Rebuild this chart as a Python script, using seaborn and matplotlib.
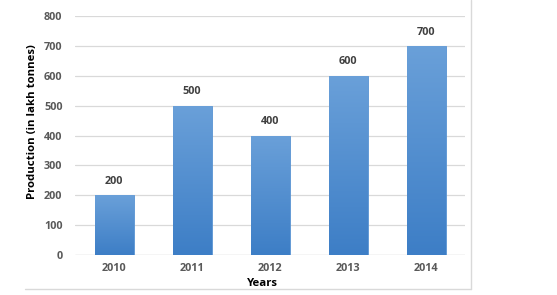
import numpy as np
import pandas as pd
import matplotlib
matplotlib.use("Agg")
import matplotlib.pyplot as plt
import seaborn as sns
from matplotlib.colors import LinearSegmentedColormap
from matplotlib.lines import Line2D

years = ["2010", "2011", "2012", "2013", "2014"]
production = [200, 500, 400, 600, 700]
yticks = [0, 100, 200, 300, 400, 500, 600, 700, 800]

df = pd.DataFrame({"Years": years, "Production": production})

sns.set_theme(style="white")
plt.rcParams['font.family'] = ['Open Sans', 'DejaVu Sans']

fig = plt.figure(figsize=(5.57, 2.95), dpi=100)
ax = fig.add_axes([75/557, 1-255/295, 390/557, (255-16)/295])

sns.barplot(data=df, x="Years", y="Production", color="#4a8ad0", width=0.5,
            ax=ax, saturation=1, zorder=3)

cmap = LinearSegmentedColormap.from_list("g", ["#3d7ec6", "#6aa0d9"])
grad = np.linspace(0, 1, 256).reshape(-1, 1)
for p in ax.patches:
    x0, y0 = p.get_x(), p.get_y()
    w, h = p.get_width(), p.get_height()
    im = ax.imshow(grad, extent=[x0, x0 + w, y0, y0 + h], origin="lower",
                   cmap=cmap, aspect="auto", zorder=4)
    im.set_clip_path(p)
    p.set_edgecolor("#5b95d3")
    p.set_linewidth(0.6)

ax.set_xlim(-0.5, 4.5)
ax.set_ylim(0, 800)
ax.set_yticks(yticks)
ax.yaxis.grid(True, color="#d9d9d9", linewidth=0.9, zorder=0)
ax.set_axisbelow(True)
for s in ax.spines.values():
    s.set_visible(False)
ax.axhline(0, color="#d9d9d9", linewidth=0.9, zorder=1)

ax.tick_params(axis="both", length=0, labelsize=7.8, labelcolor="#595959")
ax.tick_params(axis="y", pad=9)
ax.tick_params(axis="x", pad=6)
for lbl in ax.get_xticklabels() + ax.get_yticklabels():
    lbl.set_fontweight("bold")

for i, v in enumerate(production):
    ax.text(i, v + 28, str(v), ha="center", va="bottom", fontsize=7.8,
            fontweight="bold", color="#404040")

ax.set_xlabel("")
ax.set_ylabel("")
fig.text(262/557, 1-283/295, "Years", ha="center", va="center", fontsize=8.2,
         fontweight="bold", color="black")
fig.text(33/557, 1-122/295, "Production (in lakh tonnes)", ha="center",
         va="center", rotation=90, fontsize=8.2, fontweight="bold", color="black")

fig.add_artist(Line2D([25/557, 471/557], [1-289/295, 1-289/295],
                      transform=fig.transFigure, color="#d9d9d9", linewidth=1))
fig.add_artist(Line2D([471/557, 471/557], [1-289/295, 1.0],
                      transform=fig.transFigure, color="#d9d9d9", linewidth=1))

fig.savefig("out.png", dpi=100)
